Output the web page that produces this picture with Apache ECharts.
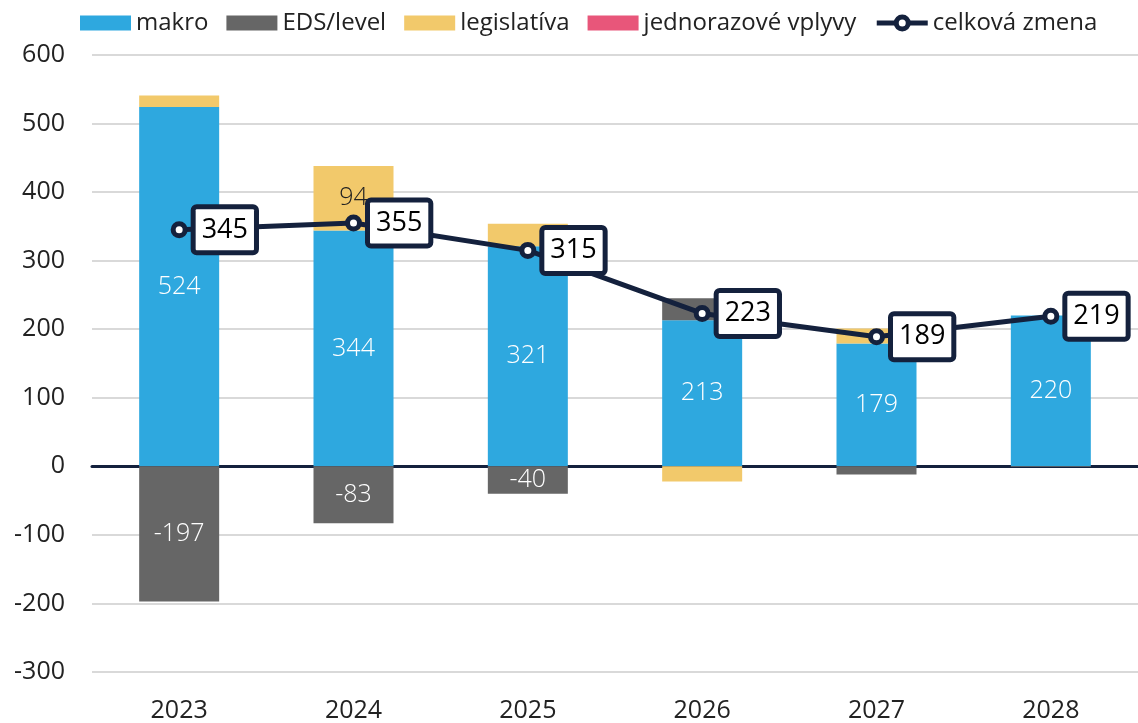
<!DOCTYPE html>
<html>
<head>
<meta charset="utf-8">
<script src="https://cdn.jsdelivr.net/npm/echarts@6/dist/echarts.min.js"></script>
<style>
  html, body { margin: 0; padding: 0; background: #fff; }
  #chart { width: 1138px; height: 723px; }
</style>
</head>
<body>
<div id="chart"></div>
<script>
const years = ['2023', '2024', '2025', '2026', '2027', '2028']
const makro = [524, 344, 321, 213, 179, 220]
const eds = [-197, -83, -40, 32, -12, -1]
const legislativa = [17, 94, 33, -22, 22, 0]
const jednorazove = [0, 0, 0, 0, 0, 0]
const celkova = [345, 355, 315, 223, 189, 219]

const font = 'Open Sans'
const navy = '#14213d'

const chart = echarts.init(document.getElementById('chart'))

// popis v stĺpci len pri dostatočne veľkých hodnotách
const innerLabel = (color) => ({
  show: true,
  position: 'inside',
  color: color,
  fontFamily: font,
  fontWeight: 300,
  fontSize: 25,
  formatter: p => (Math.abs(p.value) >= 35 ? p.value : '')
})

chart.setOption({
  animation: false,
  textStyle: { fontFamily: font },
  legend: {
    top: 6,
    left: 75,
    itemWidth: 51,
    itemHeight: 15,
    itemGap: 18,
    textStyle: { fontFamily: font, fontSize: 24, color: '#222' },
    data: [
      { name: 'makro', icon: 'rect' },
      { name: 'EDS/level', icon: 'rect' },
      { name: 'legislatíva', icon: 'rect' },
      { name: 'jednorazové vplyvy', icon: 'rect' },
      {
        name: 'celková zmena',
        lineStyle: { width: 5 },
        itemStyle: { borderWidth: 5 }
      }
    ]
  },
  grid: {
    top: 55,
    bottom: 47,
    left: 92,
    right: -4
  },
  xAxis: {
    type: 'category',
    data: years,
    axisTick: { show: false },
    axisLine: { onZero: true, lineStyle: { color: navy, width: 3 } },
    axisLabel: {
      fontFamily: font,
      fontSize: 25,
      color: '#222',
      margin: 26
    }
  },
  yAxis: {
    type: 'value',
    min: -300,
    max: 600,
    interval: 100,
    axisLabel: { fontFamily: font, fontSize: 25, color: '#222', margin: 27 },
    splitLine: { lineStyle: { color: '#d9d9d9', width: 2 } }
  },
  series: [
    {
      name: 'makro',
      type: 'bar',
      stack: 'spolu',
      barWidth: 80,
      itemStyle: { color: '#2ea8df' },
      label: innerLabel('#fff'),
      data: makro
    },
    {
      name: 'EDS/level',
      type: 'bar',
      stack: 'spolu',
      itemStyle: { color: '#666666' },
      label: innerLabel('#fff'),
      data: eds
    },
    {
      name: 'legislatíva',
      type: 'bar',
      stack: 'spolu',
      itemStyle: { color: '#f2c96b' },
      label: innerLabel('#222'),
      data: legislativa
    },
    {
      name: 'jednorazové vplyvy',
      type: 'bar',
      stack: 'spolu',
      itemStyle: { color: '#e8567a' },
      data: jednorazove
    },
    {
      name: 'celková zmena',
      type: 'line',
      symbol: 'circle',
      symbolSize: 12,
      z: 10,
      lineStyle: { color: navy, width: 5 },
      itemStyle: { color: '#fff', borderColor: navy, borderWidth: 5 },
      label: {
        show: true,
        position: 'right',
        distance: 8,
        color: '#000',
        fontFamily: font,
        fontSize: 27,
        backgroundColor: '#fff',
        borderColor: navy,
        borderWidth: 5,
        borderRadius: 1,
        padding: [8, 6, 6, 6]
      },
      data: celkova
    }
  ]
})
</script>
</body>
</html>
